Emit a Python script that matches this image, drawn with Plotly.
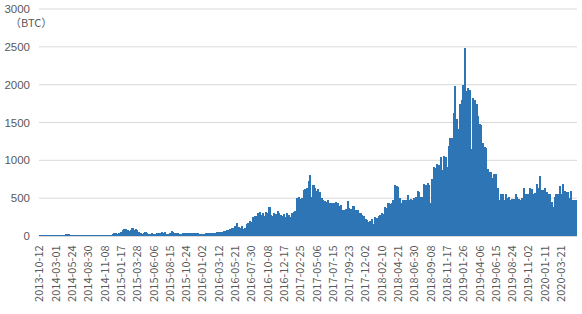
import datetime as dt
import plotly.graph_objects as go

# ---- data -------------------------------------------------------------
start_date = "2013-10-12"
# gaps (days) between successive categories in the irregular early period
early_gaps = [14] * 10 + [7, 7, 7, 7, 7, 7, 7, 7, 14, 14] + [7, 7, 7, 7, 14, 7, 14, 7, 14, 14]

values = [
    10, 10, 10, 10, 10, 10, 12, 12, 12, 12,
    12, 12, 12, 12, 12, 12, 15, 30, 15, 12,
    12, 12, 12, 12, 12, 12, 12, 12, 12, 12,
    12, 12, 12, 12, 12, 12, 12, 12, 12, 12,
    12, 12, 12, 12, 12, 15, 35, 40, 30, 45,
    50, 85, 95, 90, 80, 70, 85, 105, 80, 90,
    75, 50, 35, 30, 45, 50, 40, 30, 30, 35,
    30, 30, 40, 35, 45, 50, 40, 50, 30, 30,
    35, 60, 55, 45, 40, 45, 30, 30, 35, 40,
    40, 35, 45, 40, 40, 35, 35, 40, 30, 30,
    30, 30, 35, 35, 40, 40, 45, 40, 45, 50,
    50, 55, 55, 60, 70, 80, 85, 90, 100, 110,
    130, 170, 120, 110, 130, 95, 100, 160, 170, 200,
    190, 250, 270, 260, 300, 320, 280, 300, 260, 320,
    300, 380, 280, 260, 300, 290, 330, 300, 280, 260,
    290, 250, 300, 280, 250, 310, 320, 330, 500, 510,
    490, 500, 610, 620, 640, 730, 810, 520, 670, 640,
    600, 620, 580, 500, 480, 460, 450, 470, 440, 430,
    440, 430, 450, 440, 400, 410, 340, 350, 360, 460,
    370, 360, 400, 400, 350, 340, 310, 300, 280, 260,
    230, 210, 180, 200, 220, 160, 250, 240, 260, 280,
    300, 290, 380, 370, 430, 420, 440, 470, 670, 660,
    650, 500, 430, 470, 480, 470, 540, 480, 490, 470,
    500, 510, 600, 580, 510, 520, 690, 680, 700, 670,
    430, 750, 910, 900, 950, 940, 1040, 870, 1060, 1050,
    910, 1190, 1300, 1290, 1620, 1980, 1550, 1420, 1740, 1800,
    2000, 2490, 1910, 1950, 1930, 1150, 1820, 1800, 1740, 1590,
    1480, 1470, 1230, 1170, 1160, 890, 840, 840, 760, 820,
    820, 640, 470, 560, 550, 470, 560, 500, 510, 470,
    490, 490, 550, 520, 490, 480, 500, 640, 560, 560,
    560, 630, 620, 560, 570, 690, 630, 790, 610, 610,
    640, 580, 560, 560, 450, 380, 520, 550, 560, 660,
    560, 690, 600, 580, 580, 500, 600, 480, 480, 480,
]

tick_labels = [
    "2013-10-12", "2014-03-01", "2014-05-24", "2014-08-30", "2014-11-08",
    "2015-01-17", "2015-03-28", "2015-06-06", "2015-08-15", "2015-10-24",
    "2016-01-02", "2016-03-12", "2016-05-21", "2016-07-30", "2016-10-08",
    "2016-12-17", "2017-02-25", "2017-05-06", "2017-07-15", "2017-09-23",
    "2017-12-02", "2018-02-10", "2018-04-21", "2018-06-30", "2018-09-08",
    "2018-11-17", "2019-01-26", "2019-04-06", "2019-06-15", "2019-08-24",
    "2019-11-02", "2020-01-11", "2020-03-21",
]

y_ticks = [0, 500, 1000, 1500, 2000, 2500, 3000]
unit_label = "（BTC）"

# ---- categories (weekly dates, irregular at the start) ----------------
d = dt.date.fromisoformat(start_date)
categories = []
for i in range(len(values)):
    categories.append(d.isoformat())
    gap = early_gaps[i] if i < len(early_gaps) else 7
    d = d + dt.timedelta(days=gap)

# ---- figure -----------------------------------------------------------
FONT = "Noto Sans CJK JP"
NUM_FONT = "Liberation Sans"
GREY = "#595959"
GRID = "#D9D9D9"

fig = go.Figure(
    go.Bar(
        x=categories,
        y=values,
        marker=dict(color="#2E75B6", line=dict(width=0)),
        hoverinfo="skip",
    )
)

fig.update_layout(
    width=582,
    height=314,
    margin=dict(l=39, r=5, t=4, b=78),
    paper_bgcolor="white",
    plot_bgcolor="white",
    bargap=0,
    showlegend=False,
    font=dict(family=FONT, size=11, color=GREY),
)

fig.update_xaxes(
    type="category",
    tickmode="array",
    tickvals=tick_labels,
    ticktext=tick_labels,
    tickangle=-90,
    tickfont=dict(family=FONT, size=11, color=GREY),
    showgrid=False,
    showline=True,
    linecolor=GRID,
    linewidth=1,
    ticks="",
    ticklabelstandoff=4,
)

fig.update_yaxes(
    range=[0, 3066],
    tickvals=y_ticks,
    showgrid=False,
    zeroline=False,
    showline=False,
    ticks="",
    tickfont=dict(family=NUM_FONT, size=11.5, color=GREY),
    ticklabelstandoff=8,
)

# horizontal gridlines at each y tick, drawn below the bars
for v in y_ticks[1:]:
    fig.add_shape(
        type="line",
        xref="paper", yref="y",
        x0=0, x1=1, y0=v, y1=v,
        line=dict(color=GRID, width=1),
        layer="below",
    )

fig.add_annotation(
    text=unit_label,
    xref="paper", yref="paper",
    x=-0.058, y=0.922,
    xanchor="left", yanchor="middle",
    showarrow=False,
    font=dict(family=FONT, size=11, color=GREY),
)

fig.write_html("out.html")
